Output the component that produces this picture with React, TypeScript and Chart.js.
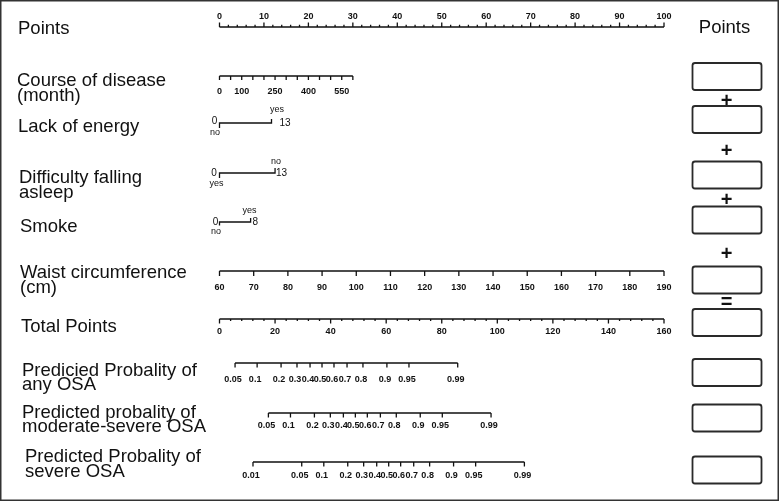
import React, { useEffect, useRef } from "react";
import { Chart, registerables } from "chart.js";
Chart.register(...registerables);

// ---------------- data ----------------
const pointsTickLabels = [0, 10, 20, 30, 40, 50, 60, 70, 80, 90, 100];
const pointsMinorStep = 2;

const courseTicks = [0, 50, 100, 150, 200, 250, 300, 350, 400, 450, 500, 550, 600];
const courseTickLabels = [0, 100, 250, 400, 550];
const courseMonthsRange = [0, 600];
const coursePointsRange = [0, 30];

const lackEnergyLevels = ["no", "yes"];
const lackEnergyPoints = [0, 11.7];
const lackEnergyScores = ["0", "13"];

const difficultyLevels = ["yes", "no"];
const difficultyPoints = [0, 12.5];
const difficultyScores = ["0", "13"];

const smokeLevels = ["no", "yes"];
const smokePoints = [0, 7];
const smokeScores = ["0", "8"];

const waistTicks = [60, 70, 80, 90, 100, 110, 120, 130, 140, 150, 160, 170, 180, 190];
const waistRange = [60, 190];
const waistPointsRange = [0, 100];

const totalTickLabels = [0, 20, 40, 60, 80, 100, 120, 140, 160];
const totalMinorStep = 4;
const totalRange = [0, 160];

const probAnyTicks = [0.05, 0.1, 0.2, 0.3, 0.4, 0.5, 0.6, 0.7, 0.8, 0.9, 0.95, 0.99];
const probModerateTicks = [0.05, 0.1, 0.2, 0.3, 0.4, 0.5, 0.6, 0.7, 0.8, 0.9, 0.95, 0.99];
const probSevereTicks = [0.01, 0.05, 0.1, 0.2, 0.3, 0.4, 0.5, 0.6, 0.7, 0.8, 0.9, 0.95, 0.99];
// total points where predicted probability = 0.5, and total points per logit unit
const probMidTotals = [36.9, 48.9, 60.9]; // any, moderate-severe, severe
const probSlope = 10.63;

// ---------------- layout ----------------
const W = 780;
const H = 503;
const ROW = {
  points: 27, course: 76, lack: 123, diff: 173, smoke: 222,
  waist: 271, total: 319, any: 363, mod: 413, sev: 462,
};
const FONT = '"Liberation Sans", Arial, sans-serif';
const NARROW = '"Liberation Sans Narrow", "Liberation Sans", Arial, sans-serif';
const INK = "#111";

const courseToPts = (m: number) =>
  coursePointsRange[0] + ((m - courseMonthsRange[0]) / (courseMonthsRange[1] - courseMonthsRange[0])) * (coursePointsRange[1] - coursePointsRange[0]);
const waistToPts = (w: number) =>
  waistPointsRange[0] + ((w - waistRange[0]) / (waistRange[1] - waistRange[0])) * (waistPointsRange[1] - waistPointsRange[0]);
const totalToPts = (t: number) => ((t - totalRange[0]) / (totalRange[1] - totalRange[0])) * 100;
const probToPts = (p: number, mid: number) => totalToPts(mid + probSlope * Math.log(p / (1 - p)));

type Pt = { x: number; y: number | null };

function axis(xs: number[], y: number, len: number, minor: number[] = [], minorLen = 0): Pt[] {
  const out: Pt[] = [];
  out.push({ x: Math.min(...xs), y }, { x: Math.max(...xs), y }, { x: xs[0], y: null });
  xs.forEach((x) => out.push({ x, y }, { x, y: y + len }, { x, y: null }));
  minor.forEach((x) => out.push({ x, y }, { x, y: y + minorLen }, { x, y: null }));
  return out;
}

function binary(pts: number[], y: number, downLen: number, upLen: number): Pt[] {
  return [
    { x: pts[0], y: y + downLen }, { x: pts[0], y }, { x: pts[1], y }, { x: pts[1], y: y - upLen },
  ];
}

function range(a: number, b: number, step: number) {
  const r: number[] = [];
  for (let v = a; v <= b + 1e-9; v += step) r.push(v);
  return r;
}

function ds(data: Pt[]) {
  return {
    data,
    borderColor: INK,
    borderWidth: 1.3,
    pointRadius: 0,
    fill: false,
    tension: 0,
    spanGaps: false,
    clip: false as any,
  };
}

const leftLabels = [
  { lines: ["Points"], x: 18, y: 34 },
  { lines: ["Course of disease", "(month)"], x: 17, y: 86 },
  { lines: ["Lack of energy"], x: 18, y: 132 },
  { lines: ["Difficulty falling", "asleep"], x: 19, y: 183 },
  { lines: ["Smoke"], x: 20, y: 232 },
  { lines: ["Waist circumference", "(cm)"], x: 20, y: 278 },
  { lines: ["Total Points"], x: 21, y: 331.5 },
  { lines: ["Predicied Probality of", "any OSA"], x: 22, y: 375.5 },
  { lines: ["Predicted probality of", "moderate-severe OSA"], x: 22, y: 417.5 },
  { lines: ["Predicted Probality of", "severe OSA"], x: 25, y: 462 },
];
const boxTops = [63, 106, 161.5, 206.5, 266.5, 309, 359, 404.5, 456.5];
const operators = [
  { t: "+", y: 100 }, { t: "+", y: 150 }, { t: "+", y: 199 }, { t: "+", y: 253 }, { t: "=", y: 301.5 },
];

export default function App() {
  const ref = useRef<HTMLCanvasElement | null>(null);

  useEffect(() => {
    const canvas = ref.current;
    if (!canvas) return;

    const pointsMinor = range(0, 100, pointsMinorStep).filter((v) => !pointsTickLabels.includes(v));
    const totalMinor = range(totalRange[0], totalRange[1], totalMinorStep).filter((v) => !totalTickLabels.includes(v));

    const datasets = [
      ds(axis(pointsTickLabels, ROW.points, -4.5, pointsMinor, -2.2)),
      ds(axis(courseTicks.map(courseToPts), ROW.course, 4)),
      ds(binary(lackEnergyPoints, ROW.lack, 5, 4)),
      ds(binary(difficultyPoints, ROW.diff, 5, 5)),
      ds(binary(smokePoints, ROW.smoke, 3.5, 4)),
      ds(axis(waistTicks.map(waistToPts), ROW.waist, 5)),
      ds(axis(totalTickLabels.map(totalToPts), ROW.total, 4.5, totalMinor.map(totalToPts), 2)),
      ds(axis(probAnyTicks.map((p) => probToPts(p, probMidTotals[0])), ROW.any, 4.5)),
      ds(axis(probModerateTicks.map((p) => probToPts(p, probMidTotals[1])), ROW.mod, 4.5)),
      ds(axis(probSevereTicks.map((p) => probToPts(p, probMidTotals[2])), ROW.sev, 4.5)),
    ];

    const textPlugin = {
      id: "nomoText",
      afterDatasetsDraw(chart: any) {
        const ctx = chart.ctx as CanvasRenderingContext2D;
        const xs = chart.scales.x;
        const px = (v: number) => xs.getPixelForValue(v);
        ctx.save();
        ctx.fillStyle = INK;

        // tick labels
        ctx.font = `bold 9px ${FONT}`;
        ctx.textAlign = "center";
        ctx.textBaseline = "middle";
        pointsTickLabels.forEach((v) => ctx.fillText(String(v), px(v), ROW.points - 10));
        courseTickLabels.forEach((v) => ctx.fillText(String(v), px(courseToPts(v)), ROW.course + 16));
        waistTicks.forEach((v) => ctx.fillText(String(v), px(waistToPts(v)), ROW.waist + 17));
        totalTickLabels.forEach((v) => ctx.fillText(String(v), px(totalToPts(v)), ROW.total + 13));

        ctx.font = `bold 9px ${NARROW}`;
        probAnyTicks.forEach((p) => ctx.fillText(String(p), px(probToPts(p, probMidTotals[0])) - 2, ROW.any + 17));
        probModerateTicks.forEach((p) => ctx.fillText(String(p), px(probToPts(p, probMidTotals[1])) - 2, ROW.mod + 13));
        probSevereTicks.forEach((p) => ctx.fillText(String(p), px(probToPts(p, probMidTotals[2])) - 2, ROW.sev + 14));

        // binary variables
        const bin = (pts: number[], levels: string[], scores: string[], y: number, o: any) => {
          ctx.font = `10px ${FONT}`;
          ctx.textAlign = "center";
          ctx.fillText(scores[0], px(pts[0]) + o.s0x, y + o.s0y);
          ctx.textAlign = "left";
          ctx.fillText(scores[1], px(pts[1]) + o.s1x, y);
          ctx.font = `9px ${FONT}`;
          ctx.textAlign = "center";
          ctx.fillText(levels[0], px(pts[0]) + o.l0x, y + o.l0y);
          ctx.fillText(levels[1], px(pts[1]) + o.l1x, y + o.l1y);
        };
        bin(lackEnergyPoints, lackEnergyLevels, lackEnergyScores, ROW.lack,
          { s0x: -5, s0y: -1.5, s1x: 8, l0x: -4.5, l0y: 9.5, l1x: 5.5, l1y: -13 });
        bin(difficultyPoints, difficultyLevels, difficultyScores, ROW.diff,
          { s0x: -5.5, s0y: 0, s1x: 1, l0x: -3, l0y: 11, l1x: 1, l1y: -11 });
        bin(smokePoints, smokeLevels, smokeScores, ROW.smoke,
          { s0x: -4, s0y: 0, s1x: 2, l0x: -3.5, l0y: 10, l1x: -1, l1y: -11.5 });

        // left labels
        ctx.font = `18.5px ${FONT}`;
        ctx.textAlign = "left";
        ctx.textBaseline = "alphabetic";
        leftLabels.forEach((l) => l.lines.forEach((s, i) => ctx.fillText(s, l.x, l.y + i * 14.7)));

        // right column
        ctx.textAlign = "center";
        ctx.fillText("Points", 724.5, 33);
        ctx.strokeStyle = "#2a2a2a";
        ctx.lineWidth = 1.8;
        boxTops.forEach((t) => {
          ctx.beginPath();
          (ctx as any).roundRect ? (ctx as any).roundRect(692.5, t, 69, 27, 2.5) : ctx.rect(692.5, t, 69, 27);
          ctx.stroke();
        });
        ctx.font = `bold 20px ${FONT}`;
        ctx.textBaseline = "middle";
        operators.forEach((o) => ctx.fillText(o.t, 726.5, o.y + 1));

        // frame
        ctx.strokeStyle = "#333";
        ctx.lineWidth = 1.5;
        ctx.strokeRect(0.75, 0.75, 777.5, 499.5);
        ctx.restore();
      },
    };

    const chart = new Chart(canvas, {
      type: "line",
      data: { datasets: datasets as any },
      options: {
        animation: false,
        responsive: false,
        devicePixelRatio: 1,
        events: [],
        layout: { padding: { left: 219.5, right: 116, top: 0, bottom: 0 } },
        scales: {
          x: { type: "linear", min: 0, max: 100, display: false },
          y: { type: "linear", min: 0, max: H, reverse: true, display: false },
        },
        plugins: { legend: { display: false }, tooltip: { enabled: false } },
      },
      plugins: [textPlugin],
    });
    return () => chart.destroy();
  }, []);

  return (
    <div style={{ position: "fixed", left: 0, top: 0, width: W, height: H, background: "#fff" }}>
      <canvas ref={ref} width={W} height={H} style={{ display: "block", width: W, height: H }} />
    </div>
  );
}
